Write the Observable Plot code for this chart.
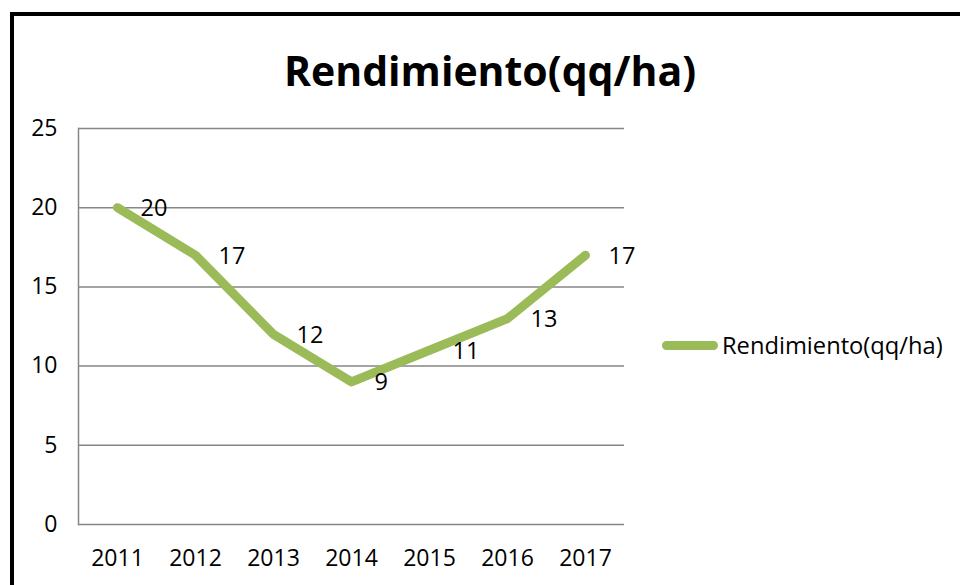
<!DOCTYPE html>
<html><head><meta charset="utf-8">
<script src="https://cdn.jsdelivr.net/npm/d3@7"></script>
<script src="https://cdn.jsdelivr.net/npm/@observablehq/plot@0.6"></script>
<style>
html,body{margin:0;padding:0;background:#fff;width:960px;height:585px;overflow:hidden;font-family:"Open Sans",sans-serif;color:#000;}
#frame{position:absolute;left:10px;top:12px;width:1000px;height:700px;border:4px solid #000;box-sizing:border-box;}
#title{position:absolute;left:0;top:40px;width:980px;height:60px;line-height:60px;text-align:center;font-weight:700;font-size:41px;color:#000;}
#chart{position:absolute;left:0;top:100px;}
#legend{position:absolute;left:662px;top:327px;height:36px;display:flex;align-items:center;font-size:23.7px;color:#000;}
#legend .sw{width:56px;height:9px;border-radius:4.5px;background:#9BBB59;margin-right:4px;}
</style>
</head><body>
<div id="frame"></div>
<div id="title">Rendimiento(qq/ha)</div>
<div id="chart"></div>
<div id="legend"><div class="sw"></div><span>Rendimiento(qq/ha)</span></div>
<script>
const years = ["2011","2012","2013","2014","2015","2016","2017"];
const rendimiento = [20, 17, 12, 9, 11, 13, 17];
const yTicks = [0, 5, 10, 15, 20, 25];
const seriesName = "Rendimiento(qq/ha)";

const data = years.map((y, i) => ({year: y, value: rendimiento[i]}));

const chart = Plot.plot({
  width: 960,
  height: 485,
  marginLeft: 78,
  marginRight: 336,
  marginTop: 28,
  marginBottom: 61,
  style: {fontFamily: '"Open Sans", sans-serif', fontSize: "23px", color: "#000", background: "transparent"},
  x: {type: "point", domain: years, padding: 0.5, label: null},
  y: {domain: [0, 25], label: null},
  marks: [
    Plot.ruleY(yTicks, {stroke: "#868686", strokeWidth: 1.5}),
    Plot.frame({anchor: "left", stroke: "#868686", strokeWidth: 1.5}),
    Plot.axisY({ticks: yTicks, tickSize: 0, tickPadding: 21, label: null, fontSize: 23}),
    Plot.axisX({tickSize: 0, tickPadding: 25, label: null, fontSize: 23}),
    Plot.line(data, {x: "year", y: "value", stroke: "#9BBB59", strokeWidth: 9, strokeLinecap: "round", strokeLinejoin: "round"}),
    Plot.text(data, {x: "year", y: "value", text: d => String(d.value), textAnchor: "start", dx: 23, dy: 1, fontSize: 23.5, fill: "#000"})
  ]
});
document.getElementById("chart").appendChild(chart);
</script>
</body></html>
